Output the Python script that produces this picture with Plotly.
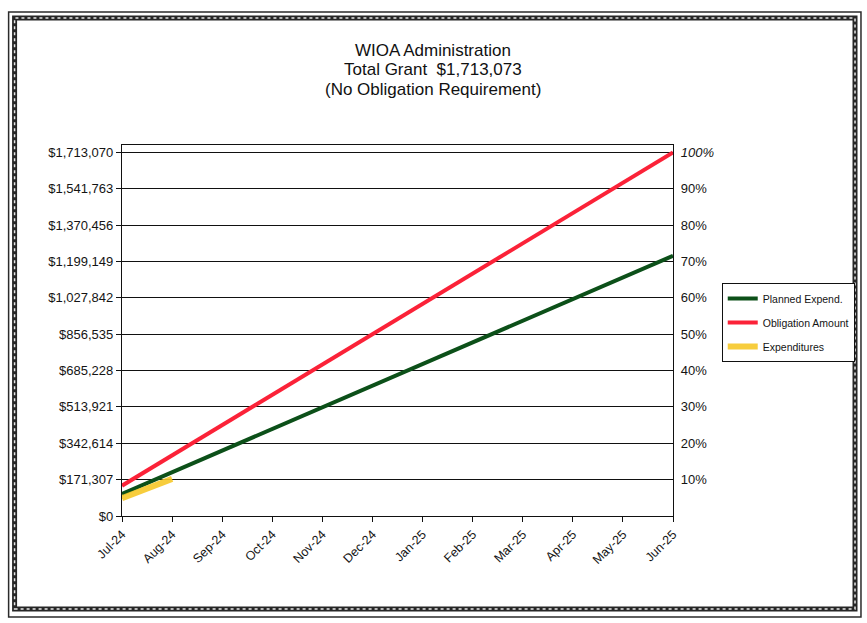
import plotly.graph_objects as go

# ---- data ----
months = ["Jul-24", "Aug-24", "Sep-24", "Oct-24", "Nov-24", "Dec-24",
          "Jan-25", "Feb-25", "Mar-25", "Apr-25", "May-25", "Jun-25"]
planned_expend = [104000, 206000, 308000, 410000, 512000, 614000,
                  716000, 818000, 920000, 1022000, 1124000, 1226000]
obligation_amount = [142756, 285512, 428268, 571024, 713780, 856536,
                     999293, 1142049, 1284805, 1427561, 1570317, 1713073]
expend_months = ["Jul-24", "Aug-24"]
expenditures = [84000, 175000]

total_grant = 1713073
left_tickvals = [0, 171307, 342614, 513921, 685228, 856535,
                 1027842, 1199149, 1370456, 1541763, 1713070]
left_ticktext = ["$0", "$171,307", "$342,614", "$513,921", "$685,228", "$856,535",
                 "$1,027,842", "$1,199,149", "$1,370,456", "$1,541,763", "$1,713,070"]
pct_tickvals = [10, 20, 30, 40, 50, 60, 70, 80, 90, 100]
pct_ticktext = ["10%", "20%", "30%", "40%", "50%", "60%", "70%", "80%", "90%", "<i>100%</i>"]

title_lines = ["WIOA Administration", "Total Grant  $1,713,073", "(No Obligation Requirement)"]

# ---- layout geometry (pixels) ----
FW, FH = 867, 623
L, R, T, B = 122, 676, 145, 516
PW, PH = R - L, B - T
y_max = 1748000


def px_x(px):
    return (px - L) / PW


def px_y(py):
    return (B - py) / PH


FONT = "Liberation Sans, Arial, sans-serif"
INK = "#141414"

fig = go.Figure()
fig.add_trace(go.Scatter(x=months, y=planned_expend, mode="lines", name="Planned Expend.",
                         line=dict(color="#0c5019", width=4), legendgroup="a"))
fig.add_trace(go.Scatter(x=months, y=obligation_amount, mode="lines", name="Obligation Amount",
                         line=dict(color="#fb2238", width=4), legendgroup="b"))
fig.add_trace(go.Scatter(x=expend_months, y=expenditures, mode="lines", name="Expenditures",
                         line=dict(color="rgba(246,200,40,0.9)", width=6), legendgroup="c"))
# invisible trace that carries the percentage axis
fig.add_trace(go.Scatter(x=months, y=[o / total_grant * 100 for o in obligation_amount],
                         yaxis="y2", mode="lines", line=dict(width=0), opacity=0,
                         showlegend=False, hoverinfo="skip"))

annotations = []
for i, txt in enumerate(title_lines):
    annotations.append(dict(text=txt, x=px_x(435), y=px_y(50 + 20 * i), xref="paper", yref="paper",
                            xanchor="center", yanchor="middle", showarrow=False,
                            font=dict(family=FONT, size=17, color="#111")))

shapes = [
    # outer thin frame
    dict(type="rect", xref="paper", yref="paper", x0=px_x(8), x1=px_x(865), y0=px_y(617), y1=px_y(12),
         line=dict(color="#2b2b2b", width=1.5), layer="above"),
    # decorative band
    dict(type="rect", xref="paper", yref="paper", x0=px_x(14), x1=px_x(859), y0=px_y(609), y1=px_y(18),
         line=dict(color="#262626", width=5), layer="above"),
    dict(type="rect", xref="paper", yref="paper", x0=px_x(14), x1=px_x(859), y0=px_y(609), y1=px_y(18),
         line=dict(color="#e8e8e8", width=1.5, dash="dot"), layer="above"),
]

fig.update_layout(
    width=FW, height=FH,
    margin=dict(l=L, r=FW - R, t=T, b=FH - B),
    paper_bgcolor="white", plot_bgcolor="white",
    font=dict(family=FONT, color=INK, size=13),
    showlegend=True,
    legend=dict(x=px_x(725), y=px_y(283), xanchor="left", yanchor="top",
                bordercolor="#111", borderwidth=1, bgcolor="white",
                font=dict(family=FONT, size=10.5, color=INK), tracegroupgap=5),
    xaxis=dict(type="category", range=[0, len(months) - 1], showgrid=False,
               showline=True, linecolor="#111", linewidth=1.3, mirror=True,
               ticks="outside", ticklen=5, tickcolor="#111", tickangle=-45,
               tickfont=dict(size=12.5), zeroline=False),
    yaxis=dict(range=[0, y_max], tickvals=left_tickvals, ticktext=left_ticktext,
               showgrid=True, gridcolor="#111", gridwidth=1.3,
               showline=True, linecolor="#111", linewidth=1.3,
               ticks="outside", ticklen=5, tickcolor="#111",
               zeroline=False, tickfont=dict(size=13)),
    yaxis2=dict(overlaying="y", side="right", range=[0, y_max / total_grant * 100],
                tickvals=pct_tickvals, ticktext=pct_ticktext, showgrid=False,
                showline=True, linecolor="#111", linewidth=1.3, ticks="",
                ticklabelstandoff=4, zeroline=False, tickfont=dict(size=13)),
    annotations=annotations,
    shapes=shapes,
)

fig.write_html("out.html")
